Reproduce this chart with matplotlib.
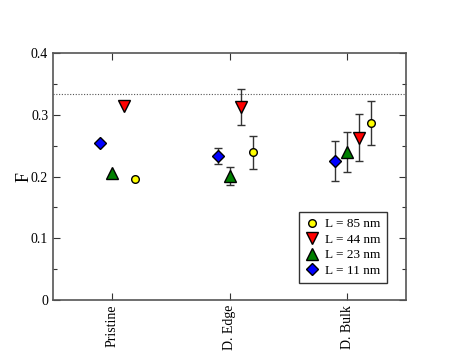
import numpy as np
import matplotlib.pyplot as plt

plt.rcParams['font.family'] = ['Liberation Serif', 'DejaVu Serif']

# Categories and series
cats = ['Pristine', 'D. Edge', 'D. Bulk']
labels = ['L = 85 nm', 'L = 44 nm', 'L = 23 nm', 'L = 11 nm']

F85 = [0.196, 0.239, 0.287]
F44 = [0.314, 0.313, 0.263]
F23 = [0.205, 0.201, 0.240]
F11 = [0.254, 0.233, 0.225]

E85 = [0.0, 0.027, 0.036]
E44 = [0.0, 0.029, 0.038]
E23 = [0.0, 0.015, 0.032]
E11 = [0.0, 0.013, 0.032]

ref_line = 1.0 / 3.0

fig = plt.figure(figsize=(4.57, 3.53), dpi=100)
ax = fig.add_axes([53/457, 1 - 300/353, 353/457, 247/353])

x = np.arange(1, len(cats) + 1)

ax.axhline(ref_line, color='#555555', linestyle=(0, (1, 1.5)), linewidth=0.8, zorder=1)

series = [
    (F85, E85, 0.2, 'o', 'yellow', 5.5),
    (F44, E44, 0.1, 'v', 'red', 8.5),
    (F23, E23, 0.0, '^', 'green', 8.5),
    (F11, E11, -0.1, 'D', 'blue', 6.5),
]
handles = []
for (vals, errs, off, m, c, ms), lab in zip(series, labels):
    xs = x + off
    errs = np.array(errs)
    mask = errs > 0
    ax.errorbar(xs[mask], np.array(vals)[mask], yerr=errs[mask], fmt='none',
                ecolor='#333333', elinewidth=1.0, capsize=3, capthick=1.0, zorder=2)
    h, = ax.plot(xs, vals, linestyle='none', marker=m, markersize=ms,
                 markerfacecolor=c, markeredgecolor='black', markeredgewidth=1.0,
                 label=lab, zorder=3)
    handles.append(h)

ax.set_xlim(0.5, 3.5)
ax.set_ylim(0, 0.4)
ax.set_xticks(x)
ax.set_xticklabels(cats, rotation=90, fontsize=10)
ax.set_yticks([0, 0.1, 0.2, 0.3, 0.4])
ax.set_yticklabels(['0', '0.1', '0.2', '0.3', '0.4'], fontsize=10)
ax.set_yticks(np.arange(0.05, 0.4, 0.1), minor=True)
ax.tick_params(which='both', direction='in', top=True, right=True, colors='#333333',
               labelcolor='black')
ax.tick_params(which='major', length=5, width=0.8)
ax.tick_params(which='minor', length=3, width=0.8)
for s in ax.spines.values():
    s.set_color('#555555')
    s.set_linewidth(1.2)
ax.set_ylabel('F', fontsize=13, labelpad=-1)

leg = ax.legend(handles=handles, loc='lower left', bbox_to_anchor=(0.698, 0.07),
                fontsize=9.5, frameon=True, fancybox=False, edgecolor='black',
                handlelength=1.0, handletextpad=0.5, borderpad=0.45, labelspacing=0.25,
                borderaxespad=0.0)
leg.get_frame().set_linewidth(1.0)

fig.savefig('out.png', dpi=100)
